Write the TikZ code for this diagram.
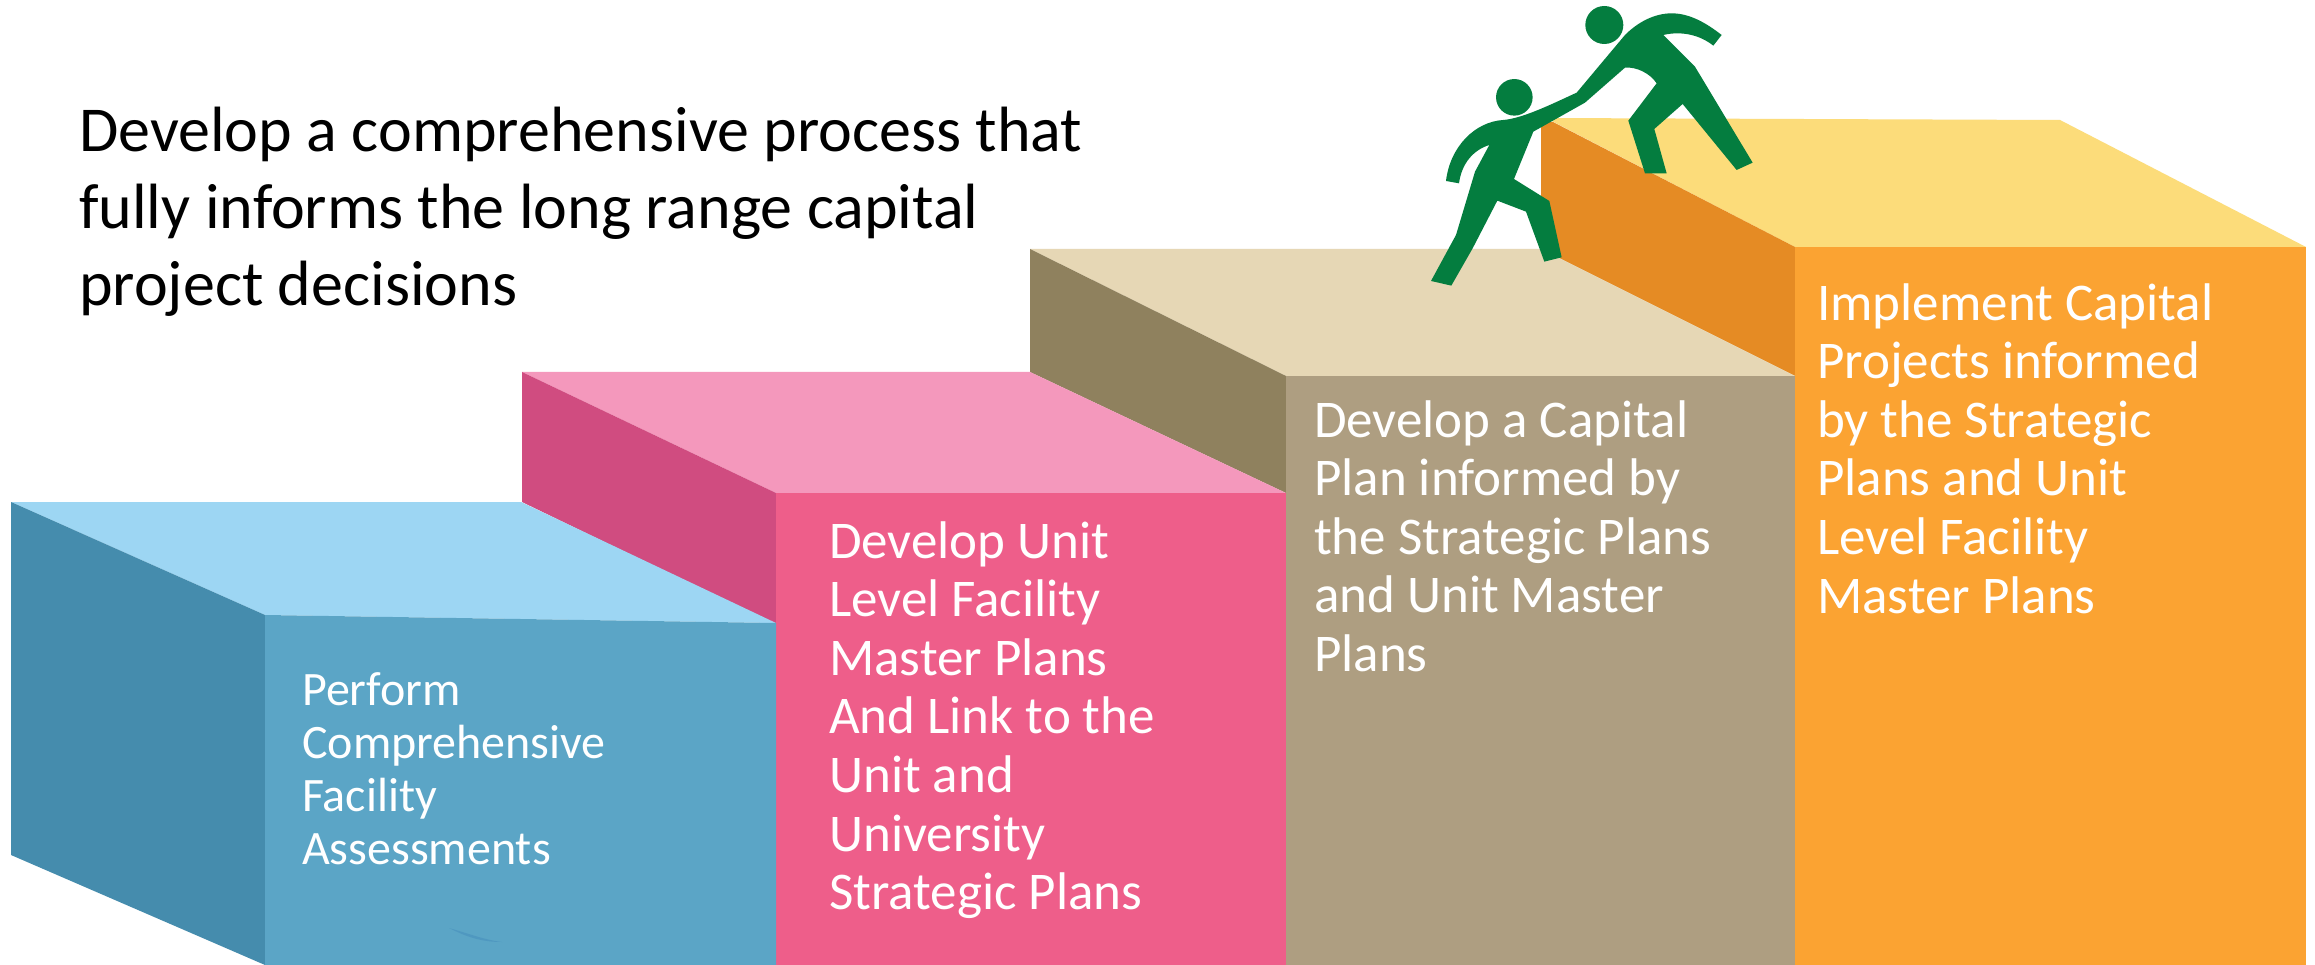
\documentclass[tikz,border=0pt]{standalone}
\usepackage{fontspec}
\setmainfont{Carlito}
\definecolor{blueF}{HTML}{5BA5C6}\definecolor{blueS}{HTML}{458CAD}\definecolor{blueT}{HTML}{9DD6F3}
\definecolor{pinkF}{HTML}{EE5E8A}\definecolor{pinkS}{HTML}{D04C80}\definecolor{pinkT}{HTML}{F498BC}
\definecolor{tanF}{HTML}{AE9E81}\definecolor{tanS}{HTML}{8F815E}\definecolor{tanT}{HTML}{E6D7B5}
\definecolor{orgF}{HTML}{FBA332}\definecolor{orgS}{HTML}{E58B24}\definecolor{orgT}{HTML}{FCDC7A}
\definecolor{figG}{HTML}{047D3F}
\definecolor{streak}{HTML}{4F98C0}
\tikzset{
  steptext/.style={anchor=north west,inner sep=0pt,align=left,text=white,font=\fontsize{53}{58.6}\selectfont},
  figure/.style={fill=figG,draw=none}
}
\begin{document}
\begin{tikzpicture}[x=1pt,y=-1pt]
\useasboundingbox (0,0) rectangle (2315,965);
\fill[white] (0,0) rectangle (2315,965);
% orange block
\fill[orgT] (1546,118) -- (2060,120) -- (2306,247) -- (1795,247) -- cycle;
\fill[orgS] (1541,122) -- (1553,122) -- (1795,247) -- (1795,376) -- (1541,249) -- cycle;
\fill[orgF] (1795,247) rectangle (2306,965);
% tan block
\fill[tanT] (1030,249) -- (1541,249) -- (1795,376) -- (1286,376) -- cycle;
\fill[tanS] (1030,249) -- (1286,376) -- (1286,493) -- (1030,372) -- cycle;
\fill[tanF] (1286,376) rectangle (1795,965);
% pink block
\fill[pinkT] (522,372) -- (1030,372) -- (1286,493) -- (776,493) -- cycle;
\fill[pinkS] (522,372) -- (776,493) -- (776,625) -- (522,502) -- cycle;
\fill[pinkF] (776,493) rectangle (1286,965);
% blue block
\fill[blueT] (11,502) -- (521,502) -- (776,623) -- (265,615) -- cycle;
\fill[blueS] (11,502) -- (265,615) -- (265,965) -- (11,855) -- cycle;
\fill[blueF] (265,615) -- (776,623) -- (776,965) -- (265,965) -- cycle;
\fill[streak] (449,928) .. controls (470,934) and (485,940) .. (502,942) .. controls (480,942) and (465,936) .. cycle;
% climbing figures
\begin{scope}[shift={(1380,0)},x=0.3333pt,y=-0.3333pt]
\fill[figure] (673,75) circle[radius=19pt];
\fill[figure] (403,292) circle[radius=18.3pt];
\fill[figure] (590,278) -- (735,105) .. controls (775,65) and (825,40) .. (875,40)
  .. controls (930,40) and (980,70) .. (1025,105) -- (1000,137)
  .. controls (960,105) and (905,92) .. (850,105) -- (945,200) -- (1118,488) -- (1070,510)
  -- (908,312) -- (823,387) -- (860,520) -- (795,520) -- (745,362) -- (830,250)
  .. controls (810,220) and (770,200) .. (735,203) -- (615,308) -- (460,395) -- (402,537)
  -- (508,603) -- (545,772) -- (493,785) -- (438,635) -- (352,602) -- (278,745)
  -- (214,857) -- (153,843) -- (228,705) -- (285,515) -- (328,435)
  .. controls (280,450) and (245,490) .. (237,550) -- (198,543)
  .. controls (210,440) and (285,365) .. (370,360)
  .. controls (430,355) and (520,310) .. (590,278) -- cycle;
\end{scope}
% texts
\node[anchor=north west,inner sep=0pt,align=left,font=\fontsize{64}{77}\selectfont] (title) at (79,107)
  {Develop a comprehensive process that\\fully informs the long range capital\\project decisions};
\node[anchor=north west,inner sep=0pt,align=left,text=white,font=\fontsize{48}{53}\selectfont] (s1) at (302,672)
  {Perform\\Comprehensive\\Facility\\Assessments};
\node[steptext] (s2) at (829,521)
  {Develop Unit\\Level Facility\\Master Plans\\And Link to the\\Unit and\\University\\Strategic Plans};
\node[steptext] (s3) at (1314,400)
  {Develop a Capital\\Plan informed by\\the Strategic Plans\\and Unit Master\\Plans};
\node[steptext] (s4) at (1817,283)
  {Implement Capital\\Projects informed\\by the Strategic\\Plans and Unit\\Level Facility\\Master Plans};
\end{tikzpicture}
\end{document}
